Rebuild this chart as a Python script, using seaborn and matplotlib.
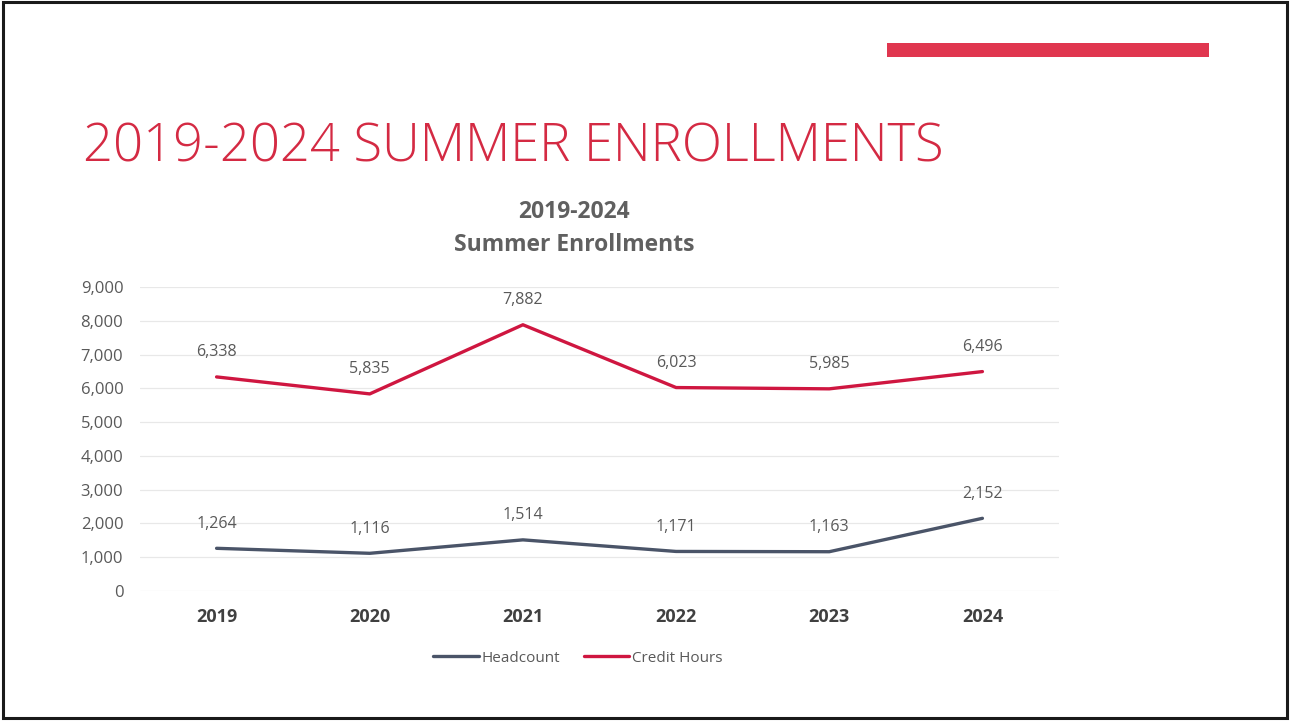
import matplotlib
matplotlib.use("Agg")
import matplotlib.pyplot as plt
import seaborn as sns
import pandas as pd
from matplotlib.patches import Rectangle
from matplotlib.lines import Line2D

years = ["2019", "2020", "2021", "2022", "2023", "2024"]
headcount = [1264, 1116, 1514, 1171, 1163, 2152]
credit_hours = [6338, 5835, 7882, 6023, 5985, 6496]
series_names = ["Headcount", "Credit Hours"]
y_ticks = [0, 1000, 2000, 3000, 4000, 5000, 6000, 7000, 8000, 9000]

sns.set_theme(style="white")
plt.rcParams["font.family"] = ["Open Sans", "DejaVu Sans"]

df = pd.DataFrame({
    "Year": years * 2,
    "x": list(range(len(years))) * 2,
    "Value": headcount + credit_hours,
    "Series": [series_names[0]] * len(years) + [series_names[1]] * len(years),
})

fig = plt.figure(figsize=(12.9, 7.21), dpi=100)
fig.patch.set_facecolor("white")

# slide frame
fig.add_artist(Rectangle((0.002, 0.004), 0.996, 0.993, transform=fig.transFigure,
                         fill=False, edgecolor="#1a1a1a", linewidth=2.2))
# red accent bar
fig.add_artist(Rectangle((887 / 1290, 1 - 57 / 721), (1209 - 887) / 1290, 14 / 721,
                         transform=fig.transFigure, facecolor="#e0364f", edgecolor="none"))

fig.text(83 / 1290, 1 - 148 / 721, "2019-2024 SUMMER ENROLLMENTS", color="#d42a43",
         fontsize=37.8, fontweight="light", ha="left", va="center")

fig.text(574 / 1290, 1 - 212 / 721, "2019-2024", color="#606060", fontsize=16.5,
         fontweight="bold", ha="center", va="center")
fig.text(574 / 1290, 1 - 245 / 721, "Summer Enrollments", color="#606060", fontsize=16.5,
         fontweight="bold", ha="center", va="center")

ax = fig.add_axes([140 / 1290, 1 - 591 / 721, (1059 - 140) / 1290, (591 - 287) / 721])
palette = {"Headcount": "#4a5468", "Credit Hours": "#cf1640"}
sns.lineplot(data=df, x="x", y="Value", hue="Series", palette=palette, linewidth=2.4,
             ax=ax, legend=False, sort=False)

ax.set_xlim(-0.5, 5.5)
ax.set_ylim(0, 9000)
ax.set_yticks(y_ticks)
ax.set_yticklabels([f"{v:,}" for v in y_ticks])
ax.set_xticks(range(len(years)))
ax.set_xticklabels(years)
ax.yaxis.grid(True, color="#e8e8e8", linewidth=0.9)
ax.xaxis.grid(False)
for s in ax.spines.values():
    s.set_visible(False)
ax.tick_params(axis="y", length=0, pad=12, labelsize=12, labelcolor="#595959")
ax.tick_params(axis="x", length=0, pad=12, labelsize=13, labelcolor="#404040")
for lab in ax.get_xticklabels():
    lab.set_fontweight("bold")
ax.set_xlabel("")
ax.set_ylabel("")

for i, v in enumerate(headcount):
    ax.annotate(f"{v:,}", (i, v), xytext=(0, 12), textcoords="offset points",
                ha="center", va="bottom", fontsize=11.5, color="#595959")
for i, v in enumerate(credit_hours):
    ax.annotate(f"{v:,}", (i, v), xytext=(0, 12), textcoords="offset points",
                ha="center", va="bottom", fontsize=11.5, color="#595959")

handles = [Line2D([], [], color=palette[n], linewidth=2.4) for n in series_names]
fig.legend(handles, series_names, loc="center", bbox_to_anchor=(578 / 1290, 1 - 658 / 721),
           ncol=2, frameon=False, fontsize=11, labelcolor="#595959", handlelength=3,
           handletextpad=0.2, columnspacing=1.5)

fig.savefig("out.png", dpi=100)
